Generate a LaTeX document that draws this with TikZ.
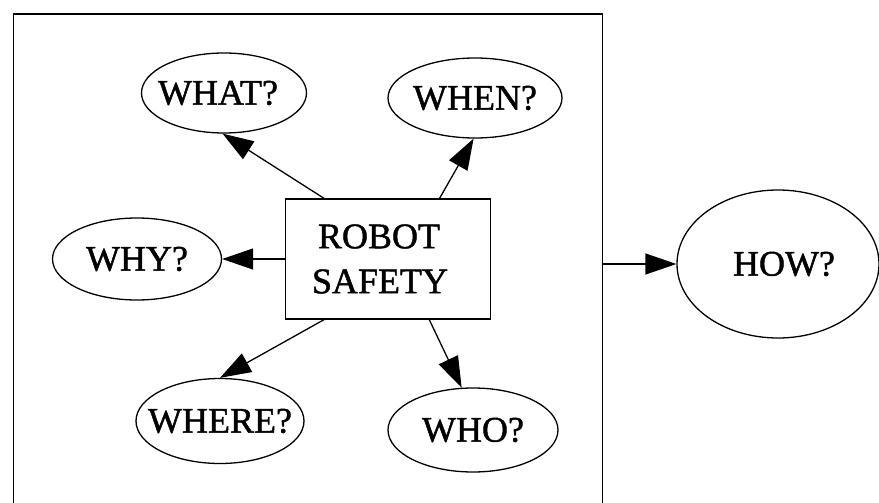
\documentclass[tikz,border=0pt]{standalone}
\usepackage{fontspec}
\setmainfont{Liberation Serif}[FakeBold=1.3]
\usetikzlibrary{arrows.meta,shapes.geometric,calc}
\begin{document}
\begin{tikzpicture}[x=1pt,y=-1pt,
  line width=1.3pt,
  q/.style={draw,ellipse,inner xsep=-30pt,inner ysep=0pt,font=\fontsize{36}{45}\selectfont},
  arr/.style={-{Triangle[length=31pt,width=21pt]}},
]
\useasboundingbox (0,0) rectangle (879,503);
\node[draw,rectangle,minimum width=589pt,minimum height=500pt,inner sep=0pt] (frame) at (308,264) {};
\node[draw,rectangle,minimum width=205pt,minimum height=120pt,align=center,inner sep=0pt,
      font=\fontsize{36}{45}\selectfont] (box) at (388,259) {ROBOT\hspace*{18pt}\\SAFETY\hspace*{16pt}};
\node[q,minimum width=165pt,minimum height=80pt] (what) at (224,93) {WHAT?\hspace*{12pt}};
\node[q,minimum width=174pt,minimum height=80pt] (when) at (475,98) {WHEN?};
\node[q,minimum width=169pt,minimum height=82pt] (why) at (137,259) {WHY?};
\node[q,minimum width=168pt,minimum height=85pt] (where) at (220,421) {WHERE?};
\node[q,minimum width=170pt,minimum height=84pt] (who) at (473,430) {WHO?};
\node[q,minimum width=202pt,minimum height=148pt] (how) at (778,264) {\hspace*{12pt}HOW?};
\draw[arr] ($(box.north west)!0.19!(box.north east)$) -- (what.268);
\draw[arr] ($(box.north west)!0.75!(box.north east)$) -- (when.268);
\draw[arr] (box.west) -- (why.east);
\draw[arr] ($(box.south west)!0.19!(box.south east)$) -- (where.north);
\draw[arr] ($(box.south west)!0.70!(box.south east)$) -- (who.105);
\draw[arr] (frame.east) -- (how.west);
\end{tikzpicture}
\end{document}
